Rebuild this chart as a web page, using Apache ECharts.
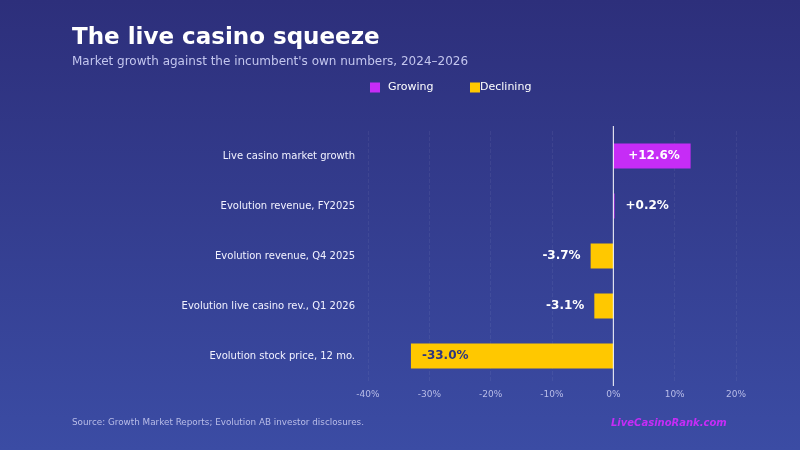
<!DOCTYPE html>
<html>
<head>
<meta charset="utf-8">
<script src="https://cdn.jsdelivr.net/npm/echarts@6/dist/echarts.min.js"></script>
<style>
html,body{margin:0;padding:0;}
#chart{width:800px;height:450px;}
</style>
</head>
<body>
<div id="chart"></div>
<script>
const categories = [
  'Live casino market growth',
  'Evolution revenue, FY2025',
  'Evolution revenue, Q4 2025',
  'Evolution live casino rev., Q1 2026',
  'Evolution stock price, 12 mo.'
];
const values = [12.6, 0.2, -3.7, -3.1, -33.0];
const seriesNames = ['Growing', 'Declining'];
const axisMin = -40, axisMax = 20, axisStep = 10;

const PURPLE = '#c62cf6';
const YELLOW = '#ffc800';
const DARK = '#2e3580';
const FONT = 'DejaVu Sans';

function fmt(v){ return (v > 0 ? '+' : '') + v.toFixed(1) + '%'; }

function makeData(sign){
  return values.map(function(v){
    if ((sign > 0 && v >= 0) || (sign < 0 && v < 0)) {
      const big = Math.abs(v) > 10;
      let label;
      if (sign > 0) {
        label = big ? {position:'inside', offset:[2,0], color:'#ffffff'} : {position:'right', distance:11, color:'#ffffff'};
      } else {
        label = big ? {position:'insideLeft', distance:11, color:DARK} : {position:'left', distance:10, color:'#ffffff'};
      }
      return {value: v, label: label};
    }
    return '-';
  });
}

const chart = echarts.init(document.getElementById('chart'));
const option = {
  backgroundColor: new echarts.graphic.LinearGradient(0,0,0,1,[
    {offset:0,color:'#2d2f7b'},
    {offset:1,color:'#3b4ca4'}
  ]),
  textStyle:{fontFamily:FONT},
  title:{
    text:'The live casino squeeze',
    subtext:"Market growth against the incumbent's own numbers, 2024–2026",
    left:67, top:22,
    itemGap:6,
    textStyle:{color:'#ffffff', fontSize:23, fontWeight:'bold', fontFamily:FONT},
    subtextStyle:{color:'#c3c6ee', fontSize:12, fontFamily:FONT}
  },
  legend:[
    {data:[seriesNames[0]], left:365, top:77, itemWidth:10, itemHeight:10, icon:'rect',
     textStyle:{color:'#ffffff', fontSize:11, fontFamily:FONT, padding:[0,0,0,3]}},
    {data:[seriesNames[1]], left:465, top:77, itemWidth:10, itemHeight:10, icon:'rect',
     textStyle:{color:'#ffffff', fontSize:11, fontFamily:FONT, padding:[0,0,0,-5]}}
  ],
  grid:{left:368, right:64, top:131, bottom:69, containLabel:false},
  xAxis:{
    type:'value', min:axisMin, max:axisMax, interval:axisStep,
    axisLine:{show:false}, axisTick:{show:false},
    axisLabel:{color:'#b9bde8', fontSize:9, fontFamily:FONT, margin:9, formatter:'{value}%'},
    splitLine:{show:true, lineStyle:{color:'rgba(255,255,255,0.06)', type:'dashed'}}
  },
  yAxis:{
    type:'category', data:categories, inverse:true,
    axisLine:{show:false}, axisTick:{show:false},
    axisLabel:{color:'#f2f2ff', fontSize:10, fontFamily:FONT, margin:13, padding:[2,0,0,0]}
  },
  series:[
    {name:seriesNames[0], type:'bar', stack:'s', barWidth:'50%', data:makeData(1),
     itemStyle:{color:PURPLE},
     label:{show:true, fontSize:12, fontWeight:'bold', fontFamily:FONT, formatter:function(p){return fmt(p.value);}}},
    {name:seriesNames[1], type:'bar', stack:'s', barWidth:'50%', data:makeData(-1),
     itemStyle:{color:YELLOW},
     label:{show:true, fontSize:12, fontWeight:'bold', fontFamily:FONT, formatter:function(p){return fmt(p.value);}}}
  ]
};
chart.setOption(option);

// zero line via the axis scale
const p0 = chart.convertToPixel({gridIndex:0}, [0, 0]);
const gm = chart.getModel().getComponent('grid',0).coordinateSystem.getRect();
chart.setOption({
  graphic:[
    {type:'line', z:10, shape:{x1:p0[0], y1:gm.y-5, x2:p0[0], y2:gm.y+gm.height+5},
     style:{stroke:'#ffffff', lineWidth:1}},
    {type:'text', left:72, top:418, style:{text:'Source: Growth Market Reports; Evolution AB investor disclosures.', fill:'#b9bde8', font:'8.8px "DejaVu Sans"'}},
    {type:'text', left:611, top:418, style:{text:'LiveCasinoRank.com', fill:'#c62cf6', font:'italic bold 10px "DejaVu Sans"'}}
  ]
});
</script>
</body>
</html>
